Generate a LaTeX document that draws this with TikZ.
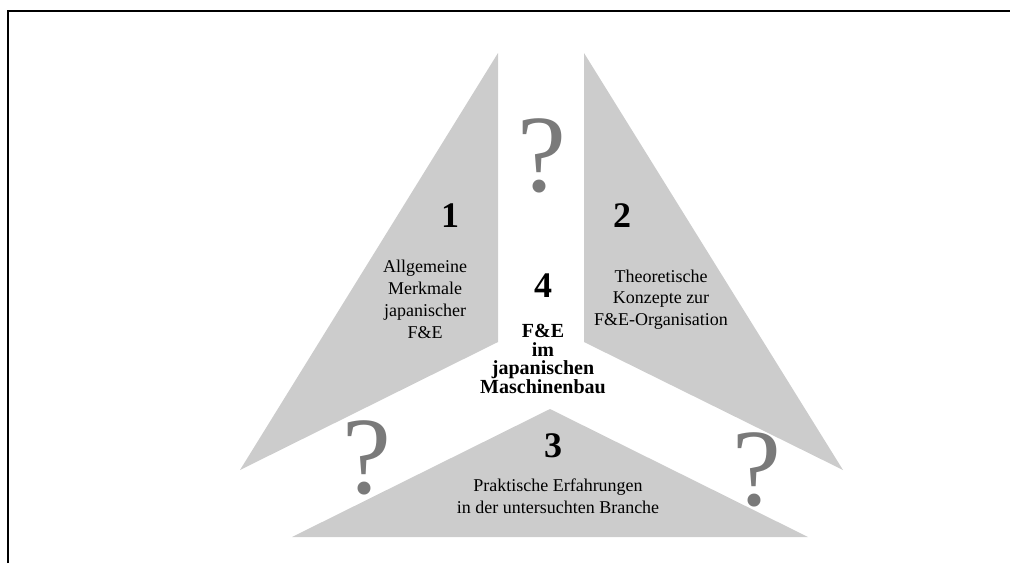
\documentclass[tikz,border=0pt]{standalone}
\usepackage{fontspec}
\setmainfont{Liberation Serif}
\definecolor{trigray}{HTML}{CCCCCC}
\definecolor{qmgray}{HTML}{7A7A7A}
\begin{document}
\begin{tikzpicture}[x=1pt,y=-1pt,
  txt/.style={anchor=base,inner sep=0pt,font=\fontsize{18}{22}\selectfont},
  bld/.style={anchor=base,inner sep=0pt,align=center,font=\fontsize{20}{18.5}\selectfont\bfseries},
  num/.style={anchor=base,inner sep=0pt,font=\fontsize{36}{36}\selectfont\bfseries},
  qmark/.style={anchor=base,inner sep=0pt,text=qmgray,font=\fontsize{110}{110}\selectfont}]
\useasboundingbox (0,0) rectangle (1010,563);
\draw[line width=2pt] (8,563) -- (8,11) -- (1010,11);
% triangles
\fill[trigray] (498,53) -- (498,342) -- (240,470) -- cycle;
\fill[trigray] (584,53) -- (584,342) -- (843,470) -- cycle;
\fill[trigray] (550,409) -- (808,537) -- (292,537) -- cycle;
% question marks
\node[qmark] (qtop) at (542,191) {?};
\node[qmark] (qleft) at (367,493) {?};
\node[qmark] (qright) at (757,505) {?};
% numbers
\node[num] (n1) at (450,227) {1};
\node[num] (n2) at (622,227) {2};
\node[num] (n3) at (553,457) {3};
\node[num] (n4) at (543,297) {4};
% block 1
\node[txt] (t1a) at (425,272) {Allgemeine};
\node[txt] (t1b) at (425,294) {Merkmale};
\node[txt] (t1c) at (425,316) {japanischer};
\node[txt] (t1d) at (425,338) {F\&E};
% block 2
\node[txt] (t2a) at (661,282) {Theoretische};
\node[txt] (t2b) at (661,303) {Konzepte zur};
\node[txt] (t2c) at (661,325) {F\&E-Organisation};
% block 3
\node[txt] (t3a) at (558,491) {Praktische Erfahrungen};
\node[txt] (t3b) at (558,513) {in der untersuchten Branche};
% block 4
\node[bld] (t4) at (543,393) {F\&E\\im\\japanischen\\Maschinenbau};
\end{tikzpicture}
\end{document}
